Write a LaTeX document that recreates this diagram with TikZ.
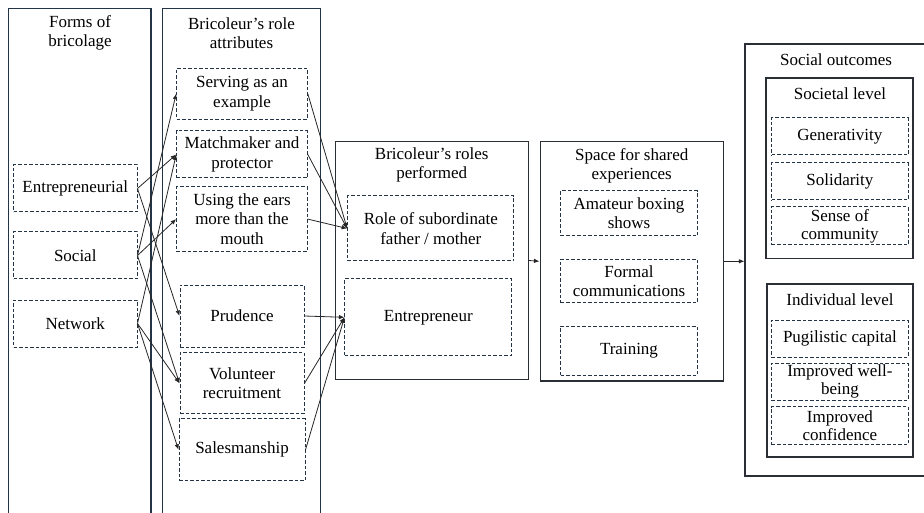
\documentclass[tikz,border=0pt]{standalone}
\usepackage{fontspec}
\setmainfont{Liberation Serif}
\usetikzlibrary{arrows.meta}
\definecolor{framec}{HTML}{243447}
\definecolor{panelc}{HTML}{2A2F36}
\begin{document}
\begin{tikzpicture}[x=1pt,y=-1pt,
  every node/.style={font=\fontsize{17}{19.5}\selectfont, align=center, inner sep=0pt, text=black},
  colbox/.style={draw=framec, line width=1.4pt},
  panel/.style={draw=panelc, line width=1.1pt},
  dbox/.style={draw=framec, line width=1pt, dash pattern=on 3.5pt off 2pt},
  tight/.style={font=\fontsize{17}{18}\selectfont},
  arr/.style={-{Latex[length=5.5pt,width=4.5pt]}, line width=0.8pt, draw=black!85}]
\useasboundingbox (0,0) rectangle (924,513);

% column 1 and 2
\node[colbox, minimum width=142.5pt, minimum height=530pt] (c1) at (79.75,273.5) {};
\node (c1t) at (80,33) {Forms of\\bricolage};
\node[colbox, minimum width=158.4pt, minimum height=530pt] (c2) at (241.5,273.5) {};
\node (c2t) at (241.5,33) {Bricoleur’s role\\attributes};

\node[dbox, minimum width=123.5pt, minimum height=47pt] (ent) at (75.25,188.5) {Entrepreneurial};
\node[dbox, minimum width=123.5pt, minimum height=47pt] (soc) at (75.25,255.5) {Social};
\node[dbox, minimum width=123.5pt, minimum height=47pt] (net) at (75.25,323.5) {Network};

\node[dbox, minimum width=130.6pt, minimum height=50.7pt] (ser) at (242,93.7) {Serving as an\\example};
\node[dbox, minimum width=130.6pt, minimum height=47pt] (mat) at (242,154.5) {Matchmaker and\\protector};
\node[dbox, minimum width=130.6pt, minimum height=64.8pt] (ear) at (242,219.1) {Using the ears\\more than the\\mouth};
\node[dbox, minimum width=124pt, minimum height=62pt] (pru) at (242,316) {Prudence};
\node[dbox, minimum width=124pt, minimum height=61.3pt] (vol) at (242,383.3) {Volunteer\\recruitment};
\node[dbox, minimum width=126pt, minimum height=61.7pt] (sal) at (242,449.8) {Salesmanship};

% roles performed
\node[panel, minimum width=193.3pt, minimum height=237.6pt] (rol) at (431.7,260.5) {};
\node (rolt) at (431.7,165) {Bricoleur’s roles\\performed};
\node[dbox, minimum width=166.3pt, minimum height=65pt] (sub) at (430.8,228.5) {Role of subordinate\\father / mother};
\node[dbox, minimum width=166.7pt, minimum height=77.3pt] (entr) at (428.3,317.3) {Entrepreneur};

% space for shared experiences
\node[panel, minimum width=183.3pt, minimum height=239.3pt] (spa) at (631.7,261.3) {};
\node (spat) at (631.7,166) {Space for shared\\experiences};
\node[dbox, minimum width=136.6pt, minimum height=45.3pt] (amb) at (629,213.3) {Amateur boxing\\shows};
\node[dbox, minimum width=136.6pt, minimum height=43.4pt] (frm) at (629,281) {Formal\\communications};
\node[dbox, minimum width=136.6pt, minimum height=49pt] (trn) at (629,350.5) {Training};

% social outcomes
\node[panel, minimum width=200pt, minimum height=432pt] (out) at (845,260) {};
\node (outt) at (836,60) {Social outcomes};
\node[panel, minimum width=147pt, minimum height=180.3pt] (lvla) at (839.5,168.2) {};
\node (lvlat) at (840,93.5) {Societal level};
\node[dbox, minimum width=136.3pt, minimum height=37pt] (gen) at (839.9,136.5) {Generativity};
\node[dbox, minimum width=136.3pt, minimum height=37pt] (sol) at (839.9,181.5) {Solidarity};
\node[dbox, tight, minimum width=136.3pt, minimum height=38pt] (sen) at (839.9,226) {Sense of\\community};
\node[panel, minimum width=146pt, minimum height=173pt] (lvlb) at (840,370.5) {};
\node (lvlbt) at (840,300) {Individual level};
\node[dbox, minimum width=136.3pt, minimum height=37pt] (pug) at (839.9,338.5) {Pugilistic capital};
\node[dbox, tight, minimum width=136.3pt, minimum height=37pt] (wel) at (839.9,381.5) {Improved well-\\being};
\node[dbox, tight, minimum width=136.3pt, minimum height=38pt] (con) at (839.9,425.5) {Improved\\confidence};

% connectors
\draw[arr] (ent.east) -- (mat.west);
\draw[arr] (ent.east) -- (pru.west);
\draw[arr] (soc.east) -- (ser.west);
\draw[arr] (soc.east) -- (ear.west);
\draw[arr] (soc.east) -- (vol.west);
\draw[arr] (net.east) -- (mat.west);
\draw[arr] (net.east) -- (vol.west);
\draw[arr] (net.east) -- (sal.west);
\draw[arr] (ser.east) -- (sub.west);
\draw[arr] (mat.east) -- (sub.west);
\draw[arr] (ear.east) -- (sub.west);
\draw[arr] (pru.east) -- (entr.west);
\draw[arr] (vol.east) -- (entr.west);
\draw[arr] (sal.east) -- (entr.west);
\draw[arr] (rol.east) -- (spa.west);
\draw[arr] (spa.east) -- (spa.east -| out.west);
\end{tikzpicture}
\end{document}
